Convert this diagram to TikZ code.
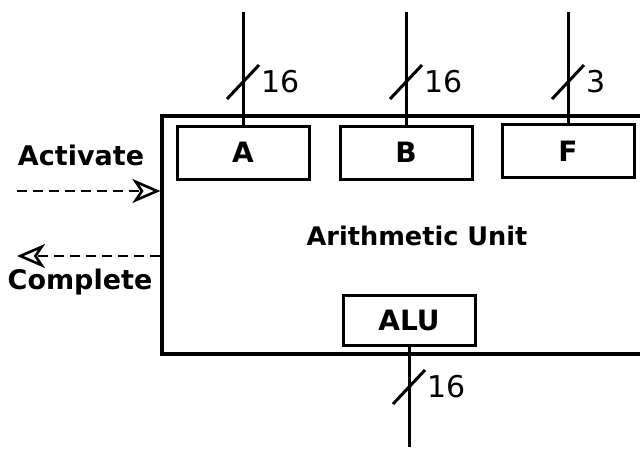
\documentclass[tikz,border=0pt]{standalone}
\usepackage{fontspec}
\setmainfont{DejaVu Sans}
\usetikzlibrary{arrows.meta,positioning}

\tikzset{
  reg/.style={draw,line width=1.5pt,minimum width=66pt,minimum height=26.5pt,inner sep=0pt,
    font=\fontsize{14}{16}\selectfont\bfseries},
  lbl/.style={inner sep=0pt,font=\fontsize{13.5}{15}\selectfont\bfseries},
  buswd/.style={inner sep=0pt,font=\fontsize{15}{17}\selectfont},
  bus/.style={line width=1.5pt},
  sig/.style={line width=1.3pt,dash pattern=on 5pt off 3pt,
    -{Stealth[open,length=14pt,width=12pt,inset=4pt]}}
}

\begin{document}
\begin{tikzpicture}[x=0.5pt,y=-0.5pt]
	\path[use as bounding box,clip] (0,0) rectangle (640,451);
	% the unit runs off the right edge
	\node[draw,line width=1.6pt,minimum width=269pt,minimum height=119pt,inner sep=0pt] (unit) at (431,235) {};
	\node[lbl,font=\fontsize{12.8}{15}\selectfont\bfseries] (title) at (417,236) {Arithmetic Unit};
	% registers
	\node[reg] (A) at (243,152.5) {A};
	\node[reg] (B) at (406,152.5) {B};
	\node[reg] (F) at (568,151) {F};
	\node[reg,minimum height=25pt] (ALU) at (409,320) {ALU};
	% input buses
	\foreach \r/\x/\w in {A/243/16,B/406/16,F/568/3}{
		\coordinate (\r in) at (\x,12);
		\coordinate (\r tick) at (\x,82);
		\draw[bus] (\r in) -- (\r.north);
		\draw[bus] ([shift={(-8pt,-8.5pt)}]\r tick) -- ([shift={(8pt,8.5pt)}]\r tick);
		\node[buswd,right=9pt of \r tick] (\r wd) {\w};
	}
	% output bus
	\coordinate (out) at (409,447);
	\coordinate (outtick) at (409,387);
	\draw[bus] (ALU.south) -- (out);
	\draw[bus] ([shift={(-8pt,-8.5pt)}]outtick) -- ([shift={(8pt,8.5pt)}]outtick);
	\node[buswd,right=9pt of outtick] (outwd) {16};
	% control signals
	\coordinate (actin) at (17,191);
	\coordinate (cmpout) at (17,256);
	\draw[sig] (actin) -- (actin -| unit.west);
	\draw[sig] (cmpout -| unit.west) -- (cmpout);
	\node[lbl] (act) at (81,155) {Activate};
	\node[lbl] (cmp) at (80,282) {Complete};
\end{tikzpicture}
\end{document}
